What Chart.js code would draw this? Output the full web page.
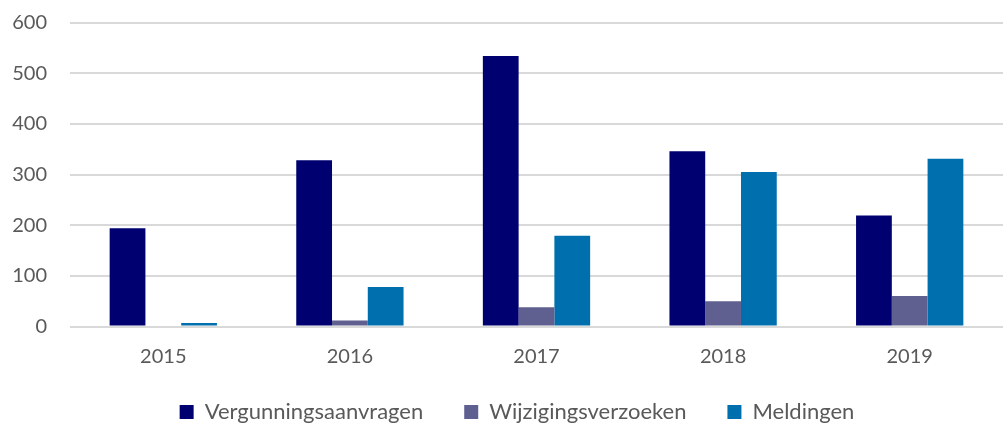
<html lang="nl">
<head>
    <meta charset="UTF-8">
    <title>Aanvragen per jaar</title>
    <script src="https://cdn.jsdelivr.net/npm/chart.js"></script>
    <style>
        html, body { margin: 0; padding: 0; background: #fff; }
        #wrap { width: 1003px; height: 427px; position: relative; }
    </style>
</head>
<body>
    <div id="wrap"><canvas id="chart"></canvas></div>

    <script>
        // data
        const years = ['2015', '2016', '2017', '2018', '2019'];
        const vergunningsaanvragen = [194, 328, 534, 346, 219];
        const wijzigingsverzoeken = [0, 12, 38, 50, 60];
        const meldingen = [7, 78, 179, 305, 331];
        const yTicks = [0, 100, 200, 300, 400, 500, 600];

        const textColor = '#595959';
        const fontFamily = 'Lato, "Open Sans", sans-serif';
        const axisFont = { family: fontFamily, size: 20 };
        const legendFont = { family: fontFamily, size: 22 };

        // wide gaps between legend items (like Excel), but a short legend box
        const legendHeight = 55;
        const legendShift = { x: 31, y: -12 };
        const excelLegend = {
            id: 'excelLegend',
            beforeLayout(chart) {
                const lg = chart.legend;
                if (lg && !lg._short) {
                    const fit = lg.fit.bind(lg);
                    lg.fit = function () { fit(); this.height = legendHeight; };
                    lg._short = true;
                }
            },
            afterLayout(chart) {
                const lg = chart.legend;
                lg.left += legendShift.x;
                lg.top += legendShift.y;
            }
        };

        const ctx = document.getElementById('chart').getContext('2d');
        new Chart(ctx, {
            type: 'bar',
            data: {
                labels: years,
                datasets: [{
                    label: 'Vergunningsaanvragen',
                    data: vergunningsaanvragen,
                    backgroundColor: '#000070'
                }, {
                    label: 'Wijzigingsverzoeken',
                    data: wijzigingsverzoeken,
                    backgroundColor: '#5f5f90'
                }, {
                    label: 'Meldingen',
                    data: meldingen,
                    backgroundColor: '#006fad'
                }]
            },
            plugins: [excelLegend],
            options: {
                responsive: true,
                maintainAspectRatio: false,
                animation: false,
                datasets: {
                    bar: { barPercentage: 1, categoryPercentage: 0.575 }
                },
                layout: { padding: { top: 0, right: 0, bottom: 0, left: 0 } },
                scales: {
                    x: {
                        grid: { display: false },
                        border: { display: false },
                        afterFit: axis => { axis.height = 45.5; },
                        ticks: { color: textColor, font: axisFont, padding: 10.5 }
                    },
                    y: {
                        min: 0,
                        max: 600,
                        afterBuildTicks: axis => { axis.ticks = yTicks.map(v => ({ value: v })); },
                        afterFit: axis => {
                            axis.width = 70;
                            axis.paddingTop = 22.5;
                            axis.paddingBottom = 0;
                        },
                        grid: { color: '#d9d9d9', lineWidth: 2, drawTicks: false },
                        border: { display: false },
                        ticks: { color: textColor, font: axisFont, padding: 23 }
                    }
                },
                plugins: {
                    legend: {
                        position: 'bottom',
                        labels: {
                            color: textColor,
                            font: legendFont,
                            boxWidth: 14,
                            boxHeight: 14,
                            padding: 41
                        }
                    },
                    tooltip: { enabled: false }
                }
            }
        });
    </script>
</body>
</html>
